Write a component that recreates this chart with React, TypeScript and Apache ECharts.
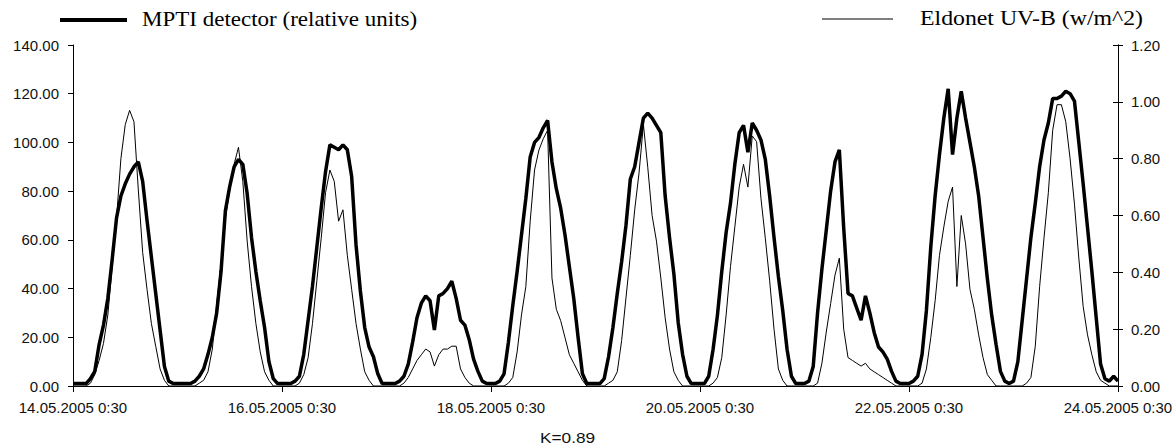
import React, { useEffect, useRef } from "react";
import * as echarts from "echarts";

// x axis: hourly samples starting 14.05.2005 0:30, a tick label every 48 hours
const X_TICK_LABELS = [
  "14.05.2005 0:30",
  "16.05.2005 0:30",
  "18.05.2005 0:30",
  "20.05.2005 0:30",
  "22.05.2005 0:30",
  "24.05.2005 0:30",
];
const HOURS_PER_TICK = 48;
const LEFT_TICKS = { min: 0, max: 140, interval: 20 };
const RIGHT_TICKS = { min: 0, max: 1.2, interval: 0.2 };

const SERIES_NAMES = ["MPTI detector (relative units)", "Eldonet UV-B (w/m^2)"];
const X_TITLE = "K=0.89";

// MPTI detector, relative units (left axis), one value per hour
const MPTI = [
  // 14.05
  1, 1, 1, 1, 3, 6, 17, 25, 36, 52, 69, 78, 83, 87, 90, 92, 84, 68, 53, 38, 23, 8, 2, 1,
  // 15.05
  1, 1, 1, 1, 2, 4, 7, 13, 20, 30, 47, 72, 82, 90, 93, 91, 79, 61, 47, 35, 24, 10, 3, 1,
  // 16.05
  1, 1, 1, 2, 4, 13, 27, 41, 57, 73, 88, 99, 98, 97, 99, 97, 86, 58, 39, 24, 16, 12, 5, 1,
  // 17.05
  1, 1, 1, 2, 4, 9, 18, 28, 34, 37, 35, 23, 37, 38, 40, 43, 36, 27, 25, 19, 11, 6, 2, 1,
  // 18.05
  1, 1, 2, 5, 18, 33, 47, 62, 77, 94, 100, 102, 106, 109, 92, 81, 73, 62, 49, 36, 20, 5, 1, 1,
  // 19.05
  1, 1, 3, 12, 24, 38, 51, 66, 85, 90, 100, 110, 112, 110, 107, 104, 78, 61, 46, 26, 13, 4, 1, 1,
  // 20.05
  1, 1, 4, 15, 29, 47, 63, 75, 91, 104, 107, 96, 108, 105, 101, 93, 78, 61, 45, 31, 15, 4, 1, 1,
  // 21.05
  1, 2, 8, 30, 48, 64, 80, 92, 97, 65, 38, 37, 32, 27, 37, 30, 22, 16, 14, 11, 6, 2, 1, 1,
  // 22.05
  1, 2, 4, 13, 31, 57, 78, 95, 110, 122, 95, 110, 121, 110, 100, 90, 78, 61, 44, 29, 17, 6, 2, 1,
  // 23.05 .. 24.05 0:30
  2, 10, 27, 44, 61, 75, 90, 101, 108, 118, 118, 119, 121, 120, 117, 100, 83, 65, 47, 28, 9, 3, 2, 4, 2,
];

// Eldonet UV-B, W/m^2 (right axis), one value per hour
const ELDONET = [
  // 14.05
  0, 0, 0, 0, 0.01, 0.04, 0.09, 0.15, 0.25, 0.42, 0.59, 0.8, 0.92, 0.97, 0.93, 0.69, 0.47, 0.34, 0.22, 0.14, 0.06, 0.02, 0, 0,
  // 15.05
  0, 0, 0, 0, 0, 0.01, 0.02, 0.05, 0.13, 0.29, 0.43, 0.59, 0.69, 0.78, 0.84, 0.72, 0.51, 0.35, 0.22, 0.12, 0.05, 0.02, 0, 0,
  // 16.05
  0, 0, 0, 0, 0.01, 0.04, 0.1, 0.22, 0.37, 0.52, 0.68, 0.76, 0.72, 0.58, 0.62, 0.46, 0.34, 0.22, 0.13, 0.05, 0.02, 0, 0, 0,
  // 17.05
  0, 0, 0, 0, 0.01, 0.03, 0.06, 0.09, 0.11, 0.13, 0.12, 0.07, 0.11, 0.13, 0.13, 0.14, 0.14, 0.06, 0.03, 0.01, 0, 0, 0, 0,
  // 18.05
  0, 0, 0, 0, 0.01, 0.03, 0.12, 0.25, 0.35, 0.58, 0.76, 0.83, 0.87, 0.9, 0.38, 0.27, 0.23, 0.17, 0.11, 0.08, 0.05, 0.02, 0, 0,
  // 19.05
  0, 0, 0, 0.01, 0.02, 0.05, 0.16, 0.31, 0.46, 0.62, 0.75, 0.92, 0.77, 0.6, 0.51, 0.38, 0.24, 0.13, 0.05, 0.02, 0, 0, 0, 0,
  // 20.05
  0, 0, 0, 0.01, 0.03, 0.1, 0.25, 0.42, 0.56, 0.7, 0.78, 0.7, 0.88, 0.86, 0.66, 0.52, 0.37, 0.2, 0.06, 0.02, 0, 0, 0, 0,
  // 21.05
  0, 0, 0, 0.01, 0.08, 0.19, 0.29, 0.39, 0.45, 0.2, 0.1, 0.09, 0.08, 0.07, 0.08, 0.06, 0.05, 0.04, 0.03, 0.02, 0.01, 0, 0, 0,
  // 22.05
  0, 0, 0, 0.01, 0.06, 0.17, 0.3, 0.46, 0.56, 0.65, 0.7, 0.35, 0.6, 0.5, 0.34, 0.27, 0.18, 0.1, 0.04, 0.02, 0, 0, 0, 0,
  // 23.05 .. 24.05 0:30
  0, 0, 0, 0.01, 0.03, 0.14, 0.35, 0.52, 0.68, 0.9, 0.99, 0.99, 0.93, 0.8, 0.64, 0.45, 0.28, 0.18, 0.11, 0.05, 0.02, 0.01, 0, 0, 0,
];

export default function App() {
  const ref = useRef<HTMLDivElement>(null);

  useEffect(() => {
    if (!ref.current) return;
    const chart = echarts.init(ref.current, null, { renderer: "svg" });
    const labelFont = {
      fontFamily: "'Liberation Sans', Arial, sans-serif",
      fontSize: 15,
      color: "#111",
    };
    const axisLine = { show: true, lineStyle: { color: "#000", width: 1 } };
    const serif = "'Liberation Serif', 'Times New Roman', serif";

    chart.setOption({
      animation: false,
      backgroundColor: "#ffffff",
      grid: { left: 73, right: 58, top: 45, bottom: 62 },
      xAxis: {
        type: "value",
        min: 0,
        max: (X_TICK_LABELS.length - 1) * HOURS_PER_TICK,
        interval: HOURS_PER_TICK,
        axisLine,
        axisTick: { show: true, length: 6, lineStyle: { color: "#000" } },
        axisLabel: {
          ...labelFont,
          margin: 14,
          formatter: (v: number) => X_TICK_LABELS[Math.round(v / HOURS_PER_TICK)] ?? "",
        },
        splitLine: { show: false },
      },
      yAxis: [
        {
          type: "value",
          ...LEFT_TICKS,
          position: "left",
          axisLine,
          axisTick: { show: true, length: 5, lineStyle: { color: "#000" } },
          axisLabel: { ...labelFont, margin: 14, formatter: (v: number) => v.toFixed(2) },
          splitLine: { show: false },
        },
        {
          type: "value",
          ...RIGHT_TICKS,
          position: "right",
          axisLine,
          axisTick: { show: true, length: 5, lineStyle: { color: "#000" } },
          axisLabel: { ...labelFont, margin: 13, formatter: (v: number) => v.toFixed(2) },
          splitLine: { show: false },
        },
        {
          type: "value",
          ...RIGHT_TICKS,
          position: "right",
          axisLine,
          axisTick: { show: true, inside: true, length: 5, lineStyle: { color: "#000" } },
          axisLabel: { show: false },
          splitLine: { show: false },
        },
      ],
      series: [
        {
          type: "line",
          name: SERIES_NAMES[0],
          yAxisIndex: 0,
          data: MPTI.map((v, i) => [i, v]),
          symbol: "none",
          lineStyle: { color: "#000", width: 3.5 },
          z: 2,
        },
        {
          type: "line",
          name: SERIES_NAMES[1],
          yAxisIndex: 1,
          data: ELDONET.map((v, i) => [i, v]),
          symbol: "none",
          lineStyle: { color: "#000", width: 1 },
          z: 3,
        },
      ],
      graphic: [
        {
          type: "line",
          shape: { x1: 60, y1: 20, x2: 127, y2: 20 },
          style: { stroke: "#000", lineWidth: 4 },
        },
        {
          type: "text",
          x: 142,
          y: 20,
          scaleX: 1.15,
          style: {
            text: SERIES_NAMES[0],
            font: `20px ${serif}`,
            fill: "#000",
            align: "left",
            verticalAlign: "middle",
            textAlign: "left",
            textVerticalAlign: "middle",
          },
        },
        {
          type: "line",
          shape: { x1: 822, y1: 19, x2: 893, y2: 19 },
          style: { stroke: "#000", lineWidth: 1 },
        },
        {
          type: "text",
          x: 920,
          y: 18,
          scaleX: 1.19,
          style: {
            text: SERIES_NAMES[1],
            font: `20px ${serif}`,
            fill: "#000",
            align: "left",
            verticalAlign: "middle",
            textAlign: "left",
            textVerticalAlign: "middle",
          },
        },
        {
          type: "text",
          x: 540,
          y: 437,
          scaleX: 1.15,
          style: {
            text: X_TITLE,
            font: `15px 'Liberation Sans', Arial, sans-serif`,
            fill: "#111",
            align: "left",
            verticalAlign: "middle",
            textAlign: "left",
            textVerticalAlign: "middle",
          },
        },
      ],
    });
    return () => chart.dispose();
  }, []);

  return (
    <div
      ref={ref}
      style={{ position: "absolute", left: 0, top: 0, width: 1176, height: 448 }}
    />
  );
}
